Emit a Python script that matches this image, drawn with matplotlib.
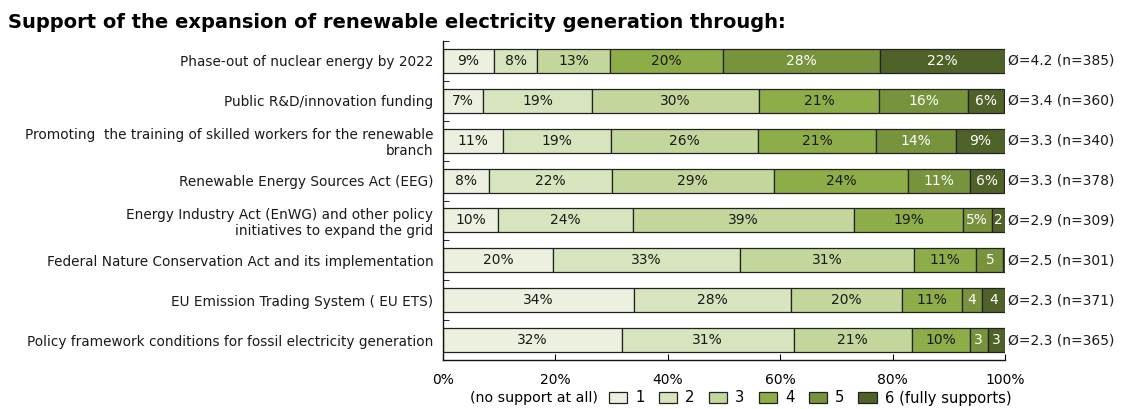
import matplotlib.pyplot as plt
import numpy as np

plt.rcParams['font.family'] = ['DejaVu Sans']

# categories, top to bottom
categories = [
    'Phase-out of nuclear energy by 2022',
    'Public R&D/innovation funding',
    'Promoting  the training of skilled workers for the renewable\nbranch',
    'Renewable Energy Sources Act (EEG)',
    'Energy Industry Act (EnWG) and other policy\ninitiatives to expand the grid',
    'Federal Nature Conservation Act and its implementation',
    'EU Emission Trading System ( EU ETS)',
    'Policy framework conditions for fossil electricity generation',
]

# share of answers 1..6 in percent (one list per answer, one value per category)
s1 = [9.1, 7.2, 10.6, 8.1, 9.8, 19.6, 34.0, 31.8]
s2 = [7.7, 19.3, 19.3, 21.9, 24.0, 33.2, 28.0, 30.6]
s3 = [13.0, 29.8, 26.2, 28.9, 39.4, 31.0, 19.7, 21.0]
s4 = [20.0, 21.3, 21.0, 23.9, 19.3, 11.1, 10.6, 10.3]
s5 = [27.9, 15.9, 14.2, 10.9, 5.1, 4.8, 3.6, 3.2]
s6 = [22.3, 6.3, 8.7, 6.2, 2.4, 0.3, 4.1, 3.1]

means = ['4.2', '3.4', '3.3', '3.3', '2.9', '2.5', '2.3', '2.3']
n_resp = [385, 360, 340, 378, 309, 301, 371, 365]

legend_labels = ['1', '2', '3', '4', '5', '6 (fully supports)']
colors = ['#EBF1DE', '#D7E4BD', '#C3D69B', '#8DAD49', '#77933C', '#4F6228']
text_colors = ['#1a1a1a', '#1a1a1a', '#1a1a1a', '#1a1a1a', 'white', 'white']

fig = plt.figure(figsize=(11.24, 4.09), dpi=100)
ax = fig.add_axes([443/1124, 1 - 360/409, 562/1124, 319/409])

series = [s1, s2, s3, s4, s5, s6]
y = np.arange(len(categories))
left = np.zeros(len(categories))
handles = []
for k, vals in enumerate(series):
    vals = np.array(vals)
    b = ax.barh(y, vals, left=left, height=0.6, color=colors[k],
                edgecolor='#222222', linewidth=0.9)
    handles.append(b)
    for i, v in enumerate(vals):
        if v < 1:
            continue
        lab = f'{round(v)}%' if v >= 5 else f'{round(v)}'
        ax.text(left[i] + v / 2, y[i], lab, ha='center', va='center',
                fontsize=10, color=text_colors[k])
    left = left + vals

# mean and n on the right
for i in range(len(categories)):
    ax.text(100.5, y[i], f'Ø={means[i]} (n={n_resp[i]})', ha='left',
            va='center', fontsize=10, color='#1a1a1a')

ax.set_xlim(0, 100)
ax.set_ylim(len(categories) - 0.5, -0.5)
ax.set_yticks(y)
ax.set_yticklabels(categories, fontsize=9.8, color='#1a1a1a')
ax.set_yticks(np.arange(len(categories) + 1) - 0.5, minor=True)
ax.tick_params(axis='y', which='major', length=0, pad=7)
ax.tick_params(axis='y', which='minor', direction='in', length=4)
ax.set_xticks(np.arange(0, 101, 20))
ax.set_xticklabels([f'{t}%' for t in range(0, 101, 20)], fontsize=10)
ax.tick_params(axis='x', direction='in', length=4, pad=9)
ax.spines['top'].set_visible(False)
ax.spines['right'].set_visible(False)
for sp in ['left', 'bottom']:
    ax.spines[sp].set_linewidth(1)
    ax.spines[sp].set_color('#111111')

fig.text(8/1124, 1 - 22/409, 'Support of the expansion of renewable electricity generation through:',
         fontsize=14, fontweight='bold', va='center', ha='left')

fig.text(598/1124, 1 - 398/409, '(no support at all)', fontsize=10.2, ha='right', va='center')
fig.legend(handles, legend_labels, loc='center left', bbox_to_anchor=(609/1124, 1 - 398/409),
           ncol=6, frameon=False, fontsize=10.6, handlelength=1.25, handleheight=0.85,
           handletextpad=0.55, columnspacing=0.95, borderaxespad=0, borderpad=0)

fig.savefig('out.png', dpi=100)
